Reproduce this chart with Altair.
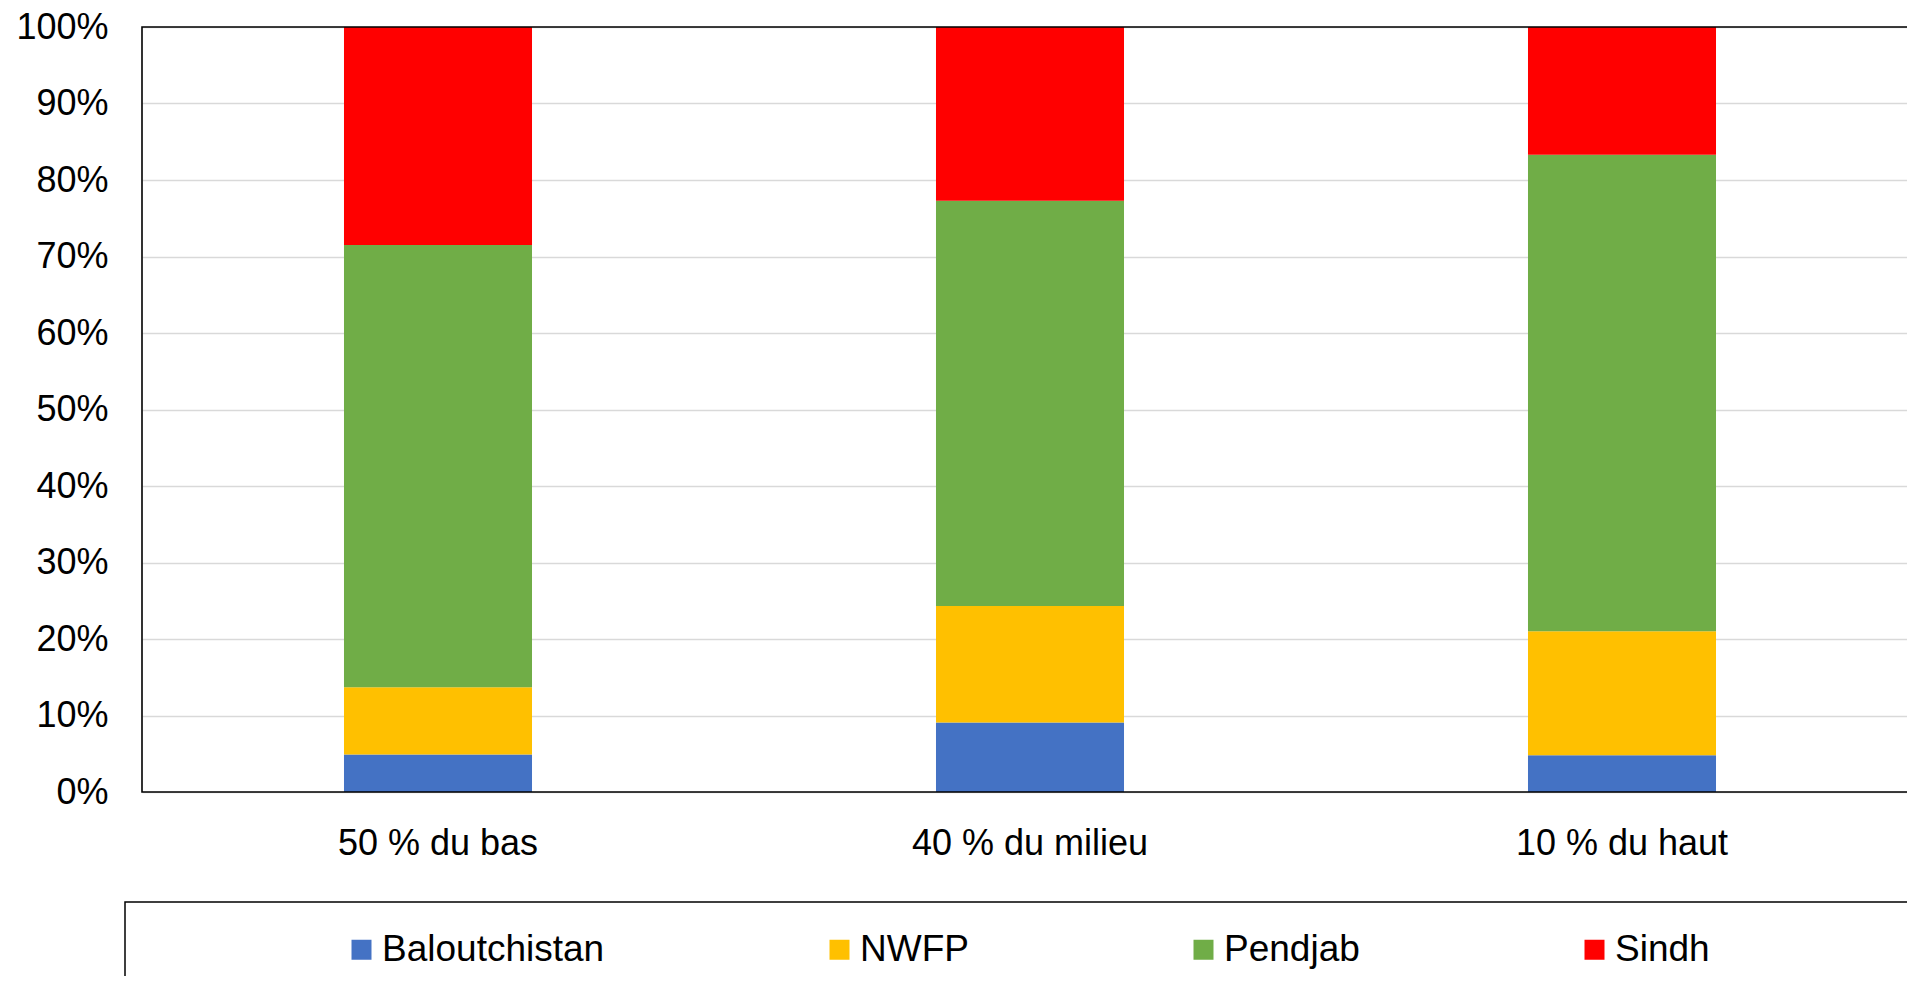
import altair as alt
import pandas as pd

groups = ["50 % du bas", "40 % du milieu", "10 % du haut"]
regions = ["Baloutchistan", "NWFP", "Pendjab", "Sindh"]
baloutchistan = [4.9, 9.1, 4.8]
nwfp = [8.8, 15.2, 16.2]
pendjab = [57.8, 53.0, 62.3]
sindh = [28.5, 22.7, 16.7]
colors = ["#4472C4", "#FFC000", "#70AD47", "#FF0000"]
y_ticks = [0, 0.1, 0.2, 0.3, 0.4, 0.5, 0.6, 0.7, 0.8, 0.9, 1.0]

rows = []
for i, g in enumerate(groups):
    for k, (r, vals) in enumerate(zip(regions, [baloutchistan, nwfp, pendjab, sindh])):
        rows.append({"groupe": g, "region": r, "part": vals[i], "ordre": k})
df = pd.DataFrame(rows)

FONT = "Liberation Sans"
PW, PH = 1765, 765
FULLW = 1776

bars = alt.Chart(df).mark_bar().encode(
    x=alt.X(
        "groupe:N",
        sort=groups,
        scale=alt.Scale(range=[0, FULLW], paddingInner=0.6824, paddingOuter=0.3412),
        axis=alt.Axis(
            title=None, labelAngle=0, labelFont=FONT, labelFontSize=36,
            labelColor="black", labelPadding=34, ticks=False, tickSize=0,
            domain=False, grid=False, labelLimit=800,
        ),
    ),
    y=alt.Y(
        "part:Q",
        stack="normalize",
        scale=alt.Scale(domain=[0, 1], nice=False),
        axis=alt.Axis(
            title=None, format=".0%", values=y_ticks, labelFont=FONT,
            labelFontSize=36, labelColor="black", labelPadding=34,
            ticks=False, tickSize=0, domain=False, grid=True,
            gridColor="#D9D9D9", gridWidth=1.3,
        ),
    ),
    color=alt.Color(
        "region:N",
        scale=alt.Scale(domain=regions, range=colors),
        legend=alt.Legend(
            orient="none", legendX=201, legendY=904, direction="horizontal",
            columns=4, title=None, labelFont=FONT, labelFontSize=37,
            labelColor="black", symbolType="square", symbolSize=400,
            symbolStrokeWidth=0, labelLimit=600, columnPadding=216,
            labelOffset=2, padding=0,
        ),
    ),
    order=alt.Order("ordre:Q", sort="ascending"),
)

# plot frame: top, left and bottom edges (right edge lies outside the picture)
frame = alt.Chart(alt.InlineData(values=[{}])).mark_rect(
    fillOpacity=0, stroke="black", strokeWidth=1.6
).encode(
    x=alt.value(0), x2=alt.value(2100), y=alt.value(0), y2=alt.value(PH)
)

legend_box = alt.Chart(alt.InlineData(values=[{}])).mark_rect(
    fillOpacity=0, stroke="black", strokeWidth=1.5
).encode(
    x=alt.value(-17), x2=alt.value(2100), y=alt.value(875), y2=alt.value(1300)
)

chart = alt.layer(bars, frame, legend_box).properties(
    width=PW,
    height=PH,
    autosize=alt.AutoSizeParams(type="none"),
    padding={"left": 134, "top": 19, "right": 0, "bottom": 184},
).configure_view(strokeWidth=0, stroke="transparent")

chart.save("out.html", embed_options={"renderer": "svg", "actions": False})
